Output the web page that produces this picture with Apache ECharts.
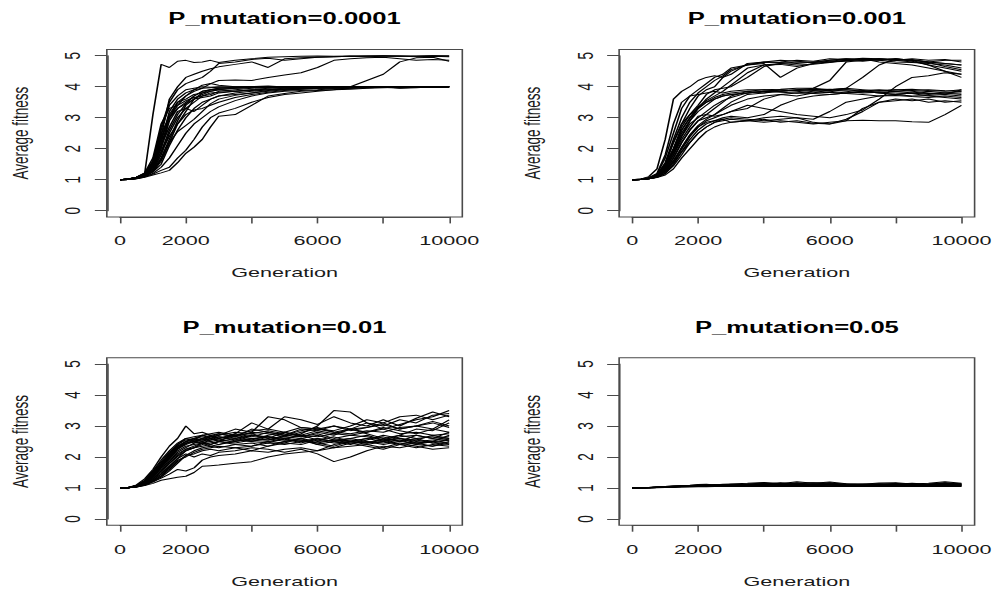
<!DOCTYPE html>
<html>
<head>
<meta charset="utf-8">
<script src="https://cdn.jsdelivr.net/npm/echarts@6/dist/echarts.min.js"></script>
<style>
html, body { margin: 0; padding: 0; background: #ffffff; overflow: hidden; width: 998px; height: 590px; }
#chart { width: 624px; height: 590px; transform: scaleX(1.599359); transform-origin: 0 0; }
</style>
</head>
<body>
<div id="chart"></div>
<script>
// ---------------- data ----------------
const generations = [0,250,500,750,1000,1250,1500,1750,2000,2250,2500,2750,3000,3500,4000,4500,5000,5500,6000,6500,7000,7500,8000,8500,9000,9500,10000];
const panelTitles = ["P_mutation=0.0001", "P_mutation=0.001", "P_mutation=0.01", "P_mutation=0.05"];
const xTickValues = [0,2000,4000,6000,8000,10000];
const xTickLabels = [0,2000,6000,10000];
const yTickValues = [0,1,2,3,4,5];
const xAxisTitle = "Generation";
const yAxisTitle = "Average fitness";

const runsP0001 = [
  [1,1.02,1.08,1.2,3.1,4.72,4.62,4.82,4.85,4.78,4.8,4.85,4.78,4.85,4.9,4.95,4.97,4.98,4.99,4.98,4.99,5,5,4.98,4.99,5,5],
  [1,1.02,1.07,1.18,1.5,2.4,3.6,4,4.3,4.4,4.5,4.58,4.64,4.72,4.8,4.62,4.9,4.93,4.95,4.97,4.98,4.97,4.98,4.99,4.97,4.98,4.97],
  [1,1.02,1.06,1.15,1.4,2.1,3,3.5,3.7,3.85,3.95,4.1,4.2,4.22,4.2,4.3,4.38,4.45,4.62,4.85,4.9,4.93,4.95,4.9,4.85,4.88,4.85],
  [1,1.01,1.05,1.13,1.35,1.9,2.6,3.1,3.45,3.7,3.85,3.9,3.95,3.97,3.98,4,3.98,4,3.97,3.98,4,4.2,4.4,4.8,4.93,4.95,4.82],
  [1,1.02,1.07,1.19,1.6,2.7,3.5,3.9,4.1,4.2,4.3,4.5,4.75,4.8,4.88,4.92,4.85,4.9,4.95,4.97,4.98,4.98,5,4.99,4.98,5,4.98],
  [1,1.02,1.08,1.2,1.6,2.6,3.4,3.7,3.9,3.95,4,3.98,4,3.98,4,4.02,3.99,4,4,3.98,4,4,3.99,4,4,4,4],
  [1,1.02,1.06,1.15,1.4,2,2.9,3.3,3.5,3.7,3.85,3.9,3.95,3.98,4,3.97,4,4,3.99,4,4,4,3.98,4,4,4,4],
  [1,1.01,1.05,1.12,1.3,1.8,2.5,3,3.3,3.5,3.7,3.75,3.85,3.9,3.95,3.97,4,3.98,4,4,4,3.99,4,4,4,3.98,4],
  [1,1.01,1.04,1.1,1.25,1.5,2.1,2.6,3,3.3,3.5,3.6,3.7,3.8,3.85,3.9,3.92,3.95,3.97,3.98,4,4,4,3.96,3.98,4,4],
  [1,1.01,1.03,1.08,1.15,1.22,1.3,1.55,1.85,2.05,2.3,2.7,3.05,3.1,3.4,3.7,3.78,3.85,3.88,3.9,3.95,3.97,3.98,3.95,3.97,4,4],
  [1,1.01,1.04,1.1,1.18,1.3,1.4,1.7,1.95,2.3,2.7,3,3.15,3.3,3.5,3.65,3.75,3.8,3.85,3.9,3.92,3.95,3.97,3.98,4,4,4],
  [1,1.02,1.07,1.18,1.5,2.3,3.1,3.5,3.6,3.75,3.8,3.85,3.9,3.85,3.9,3.95,3.97,4,4,4,4,4,4,4,4,4,4],
  [1,1.02,1.06,1.16,1.45,2.1,2.7,3.2,3.3,3.2,3.4,3.6,3.7,3.75,3.8,3.85,3.9,3.92,3.95,3.97,3.98,4,4,4,4,4,4],
  [1,1.01,1.05,1.14,1.35,1.9,2.4,2.8,3.2,3.6,3.8,3.9,3.92,3.95,3.98,4,4,4,4,4,4,4,4,4,4,4,4],
  [1,1.02,1.08,1.22,1.7,2.8,3.3,3.4,3.55,3.65,3.7,3.8,3.82,3.85,3.88,3.9,3.93,3.95,3.97,3.96,3.98,4,3.98,4,4,4,4],
  [1,1.01,1.04,1.11,1.25,1.6,2.2,2.8,3.1,3.25,3.3,3.4,3.5,3.65,3.75,3.82,3.88,3.92,3.95,3.95,3.97,3.98,4,4,4,4,4],
  [1,1.02,1.07,1.2,1.55,2.5,3,3.4,3.7,3.9,4.05,4.1,4.05,4,4,3.98,4,4,4,4,4,4,4,4,4,4,4],
  [1,1.01,1.05,1.13,1.3,1.7,2.3,2.9,3.4,3.6,3.65,3.7,3.8,3.85,3.9,3.92,3.95,3.97,3.98,4,4,4,4,4,4,4,4],
  [1,1.01,1.03,1.09,1.2,1.4,1.7,2.1,2.5,2.8,3,3.2,3.35,3.55,3.7,3.8,3.85,3.88,3.9,3.93,3.95,3.97,3.98,4,4,3.98,4],
  [1,1.02,1.06,1.17,1.45,2.2,3.2,3.6,3.8,3.9,3.95,3.97,3.98,4,4,4,4,4,4,4,4,4,4,4,4,4,4],
  [1,1.02,1.07,1.19,1.52,2.35,3,3.3,3.45,3.6,3.75,3.85,3.9,3.95,3.97,4,4,4,4,4,4,4,4,4,4,4,4],
  [1,1.01,1.04,1.12,1.28,1.65,2.2,2.55,2.75,2.95,3.2,3.45,3.6,3.72,3.8,3.88,3.92,3.95,3.97,3.98,4,4,4,4,4,4,4]
];

const runsP001 = [
  [1,1.02,1.1,1.35,2.3,3.6,3.85,4,4.2,4.3,4.35,4.3,4.4,4.75,4.8,4.78,4.75,4.8,4.85,4.9,4.85,4.88,4.9,4.85,4.8,4.85,4.85],
  [1,1.01,1.06,1.18,1.7,2.5,3.3,3.7,3.9,4.1,4.3,4.4,4.6,4.7,4.75,4.3,4.6,4.75,4.8,4.82,4.9,4.85,4.8,4.78,4.75,4.7,4.6],
  [1,1.01,1.05,1.15,1.5,2.2,2.8,3.3,3.7,3.9,4,4.3,4.5,4.72,4.8,4.85,4.82,4.78,4.85,4.9,4.88,4.85,4.9,4.82,4.7,4.6,4.5],
  [1,1.01,1.04,1.12,1.4,1.9,2.5,2.9,3.3,3.6,3.8,4,4.2,4.6,4.7,4.75,4.7,4.72,4.78,4.85,4.9,4.8,4.75,4.7,4.6,4.5,4.4],
  [1,1.01,1.05,1.14,1.45,2,2.7,3.1,3.4,3.75,3.9,3.95,4,4.3,4.65,4.75,4.8,4.78,4.82,4.88,4.85,4.9,4.85,4.9,4.85,4.88,4.8],
  [1,1.01,1.04,1.12,1.35,1.8,2.4,2.9,3.2,3.4,3.6,3.7,3.75,3.8,3.85,3.85,3.9,3.95,4.2,4.8,4.85,4.9,4.88,4.85,4.7,4.5,4.3],
  [1,1.01,1.04,1.1,1.3,1.7,2.2,2.6,2.9,3.1,3.3,3.5,3.7,3.85,3.9,3.92,3.95,3.95,3.9,3.95,4.3,4.7,4.9,4.85,4.8,4.75,4.7],
  [1,1.01,1.03,1.09,1.25,1.6,2,2.4,2.7,2.9,3,3.1,3.2,3.4,3.3,3.2,3.1,3.05,3,3.1,3.25,3.6,4,4.3,4.35,4.45,4.4],
  [1,1.01,1.05,1.16,1.55,2.3,3,3.5,3.8,4,4.2,4.35,4.55,4.7,4.78,4.8,4.85,4.82,4.9,4.88,4.92,4.9,4.85,4.88,4.8,4.75,4.7],
  [1,1.01,1.04,1.13,1.42,1.95,2.6,3,3.35,3.55,3.7,3.85,4.05,4.45,4.7,4.72,4.65,4.75,4.8,4.85,4.82,4.88,4.85,4.8,4.78,4.65,4.55],
  [1,1.02,1.07,1.2,1.8,2.8,3.5,3.7,3.75,3.8,3.85,3.8,3.85,3.9,3.9,3.85,3.88,3.9,3.92,3.9,3.88,3.9,3.85,3.88,3.9,3.87,3.85],
  [1,1.01,1.05,1.15,1.5,2.2,2.8,3.1,3.3,3.5,3.6,3.7,3.75,3.8,3.85,3.9,3.88,3.92,3.9,3.85,3.8,3.82,3.85,3.8,3.78,3.8,3.8],
  [1,1.01,1.04,1.12,1.4,1.9,2.4,2.8,3,3.2,3.4,3.55,3.65,3.8,3.85,3.82,3.8,3.85,3.88,3.9,3.85,3.8,3.75,3.7,3.72,3.75,3.7],
  [1,1.01,1.03,1.1,1.3,1.7,2.2,2.6,2.9,3,3.1,3.3,3.5,3.75,3.8,3.85,3.9,3.88,3.85,3.8,3.82,3.88,3.9,3.85,3.8,3.75,3.9],
  [1,1.01,1.04,1.11,1.35,1.8,2.3,2.7,3.05,3.1,3.05,3.1,3.2,3.3,3.6,3.75,3.8,3.78,3.75,3.8,3.85,3.82,3.8,3.78,3.7,3.65,3.6],
  [1,1.01,1.03,1.08,1.2,1.5,1.9,2.3,2.6,2.8,2.9,3,3.05,3,3.1,3.4,3.6,3.7,3.75,3.8,3.85,3.8,3.75,3.8,3.85,3.8,3.75],
  [1,1.01,1.04,1.13,1.45,2,2.6,3,3.3,3.5,3.65,3.75,3.8,3.85,3.8,3.9,3.85,3.8,3.9,3.95,3.9,3.85,3.9,3.92,3.88,3.85,3.9],
  [1,1.01,1.03,1.09,1.28,1.6,2.05,2.45,2.75,2.95,3.1,3.25,3.4,3.6,3.7,3.75,3.7,3.8,3.82,3.78,3.75,3.7,3.72,3.68,3.65,3.7,3.65],
  [1,1.01,1.03,1.08,1.2,1.45,1.8,2.2,2.5,2.7,2.85,2.9,2.95,2.9,2.85,2.9,2.85,2.8,2.85,2.9,3.3,3.5,3.55,3.6,3.5,3.55,3.5],
  [1,1.01,1.03,1.07,1.15,1.35,1.7,2,2.3,2.55,2.7,2.8,2.85,2.9,2.95,2.85,2.9,2.82,2.8,2.9,2.92,2.9,2.9,2.87,2.85,3.1,3.4],
  [1,1.01,1.03,1.09,1.25,1.55,1.9,2.2,2.5,2.7,2.85,2.95,3,2.95,2.9,2.95,3,2.95,3.2,3.5,3.6,3.7,3.75,3.8,3.75,3.8,3.85],
  [1,1.01,1.04,1.1,1.28,1.6,2,2.4,2.7,2.85,2.9,2.95,2.85,2.9,3,3.05,3,2.85,2.8,2.95,3.2,3.5,3.6,3.55,3.6,3.5,3.55]
];

const runsP01 = [
  [1,1.02,1.1,1.3,1.6,2,2.35,2.6,3,2.75,2.8,2.7,2.75,2.65,2.9,2.8,2.7,2.9,2.85,3,2.9,3.1,3,3.2,3.1,3.35,3.4],
  [1,1.02,1.08,1.25,1.55,1.9,2.2,2.45,2.6,2.55,2.7,2.6,2.5,2.75,3.1,2.9,3.3,3.2,3.05,3.3,3.1,3,3.2,3,3.25,3.45,3.3],
  [1,1.01,1.06,1.2,1.45,1.75,2.05,2.3,2.45,2.5,2.6,2.55,2.65,2.6,2.7,2.65,2.55,2.75,3,3.5,3.45,3.1,2.9,3.05,3.2,3.3,3.5],
  [1,1.01,1.05,1.15,1.35,1.6,1.9,2.15,2.3,2.45,2.5,2.6,2.55,2.5,2.6,2.55,2.7,2.65,2.8,2.7,2.9,2.75,2.6,2.7,2.9,2.85,3.1],
  [1,1.01,1.05,1.14,1.3,1.55,1.8,2.05,2.25,2.35,2.45,2.5,2.4,2.55,2.5,2.65,2.6,2.45,2.6,2.5,2.4,2.55,2.7,2.6,2.45,2.5,2.7],
  [1,1.01,1.04,1.12,1.25,1.45,1.7,1.95,2.2,2.3,2.35,2.4,2.5,2.45,2.55,2.5,2.6,2.7,2.55,2.65,2.5,2.4,2.3,2.45,2.35,2.25,2.3],
  [1,1.01,1.04,1.1,1.2,1.35,1.55,1.8,2.05,2.2,2.3,2.35,2.3,2.4,2.45,2.35,2.5,2.55,2.4,2.5,2.6,2.5,2.45,2.55,2.4,2.5,2.45],
  [1,1.01,1.03,1.08,1.15,1.25,1.3,1.35,1.38,1.5,1.7,1.72,1.74,1.8,1.85,2,2.1,2.15,2.2,2.3,2.35,2.4,2.5,2.6,2.55,2.7,2.6],
  [1,1.01,1.03,1.09,1.2,1.32,1.45,1.6,1.55,1.65,1.9,2,2.05,2.1,2.2,2.15,2.25,2.3,2.2,2.4,2.5,2.45,2.6,2.5,2.7,2.6,2.8],
  [1,1.01,1.04,1.11,1.25,1.45,1.7,1.95,2.1,2,2.1,2.05,2.15,2.2,2.3,2.25,2.15,2.25,2.1,1.85,2,2.2,2.35,2.3,2.4,2.35,2.5],
  [1,1.02,1.07,1.22,1.5,1.8,2.1,2.35,2.5,2.6,2.55,2.65,2.7,2.9,2.8,3.3,3.2,2.95,2.9,3,2.85,2.95,3.1,2.9,3,3.15,3],
  [1,1.02,1.07,1.2,1.45,1.75,2,2.3,2.5,2.55,2.5,2.6,2.65,2.55,2.7,2.6,2.5,2.6,2.7,2.55,2.5,2.45,2.55,2.4,2.3,2.4,2.35],
  [1,1.01,1.06,1.18,1.4,1.7,2,2.25,2.4,2.5,2.45,2.55,2.6,2.7,2.75,2.6,2.8,2.7,2.85,2.75,2.9,2.8,2.95,2.85,2.75,2.9,2.8],
  [1,1.01,1.05,1.16,1.35,1.65,1.95,2.2,2.35,2.4,2.45,2.35,2.4,2.5,2.6,2.65,2.55,2.5,2.45,2.55,2.6,2.7,2.55,2.6,2.5,2.55,2.6],
  [1,1.02,1.08,1.24,1.52,1.85,2.15,2.4,2.6,2.65,2.7,2.75,2.8,2.7,2.85,2.9,2.8,2.95,2.9,2.85,3,3.2,3.1,3.3,3.35,3.2,3.35],
  [1,1.01,1.05,1.13,1.3,1.55,1.85,2.1,2.25,2.3,2.4,2.45,2.5,2.4,2.35,2.5,2.45,2.4,2.55,2.45,2.5,2.6,2.65,2.5,2.45,2.5,2.55],
  [1,1.01,1.04,1.1,1.22,1.4,1.65,1.9,2,2.15,2.25,2.3,2.35,2.3,2.2,2.35,2.45,2.6,2.4,2.3,2.45,2.35,2.25,2.4,2.55,2.45,2.4],
  [1,1.02,1.07,1.21,1.48,1.78,2.1,2.4,2.55,2.6,2.65,2.6,2.7,2.8,2.75,2.85,2.75,2.7,2.65,2.75,2.7,2.8,2.9,2.75,2.8,2.7,2.75],
  [1,1.01,1.05,1.15,1.38,1.68,1.98,2.28,2.42,2.55,2.6,2.5,2.55,2.65,2.55,2.7,2.8,2.65,2.75,2.6,2.7,2.65,2.55,2.7,2.6,2.65,2.55],
  [1,1.02,1.07,1.19,1.42,1.72,2.02,2.3,2.5,2.45,2.6,2.7,2.6,2.75,2.65,2.8,2.7,2.85,2.95,2.8,2.9,2.95,3.05,2.9,3,3.1,2.95],
  [1,1.01,1.04,1.12,1.28,1.5,1.78,2.02,2.2,2.3,2.45,2.4,2.5,2.6,2.5,2.45,2.6,2.55,2.45,2.35,2.5,2.6,2.5,2.4,2.45,2.35,2.45],
  [1,1.01,1.05,1.17,1.4,1.7,1.95,2.25,2.45,2.5,2.55,2.65,2.75,2.65,2.8,2.75,2.65,2.8,2.9,2.8,2.75,2.85,2.8,2.95,3,2.9,3.2],
  [1,1.02,1.06,1.18,1.42,1.75,2.05,2.35,2.5,2.6,2.7,2.65,2.6,2.7,2.6,2.55,2.65,2.6,2.5,2.55,2.45,2.5,2.4,2.5,2.6,2.45,2.55],
  [1,1.01,1.04,1.1,1.22,1.38,1.6,1.85,2.05,2.1,2.2,2.25,2.2,2.3,2.35,2.45,2.4,2.5,2.6,2.5,2.55,2.45,2.5,2.65,2.7,2.6,2.65]
];

const runsP05 = [
  [1,1,1.01,1.02,1.03,1.04,1.04,1.05,1.06,1.07,1.06,1.07,1.08,1.1,1.15,1.12,1.17,1.1,1.12,1.08,1.07,1.1,1.12,1.08,1.1,1.15,1.1],
  [1,1.01,1.02,1.02,1.04,1.05,1.06,1.06,1.08,1.08,1.07,1.09,1.1,1.12,1.1,1.15,1.13,1.12,1.17,1.1,1.08,1.1,1.15,1.09,1.12,1.17,1.12],
  [1,1,1.01,1.03,1.03,1.04,1.05,1.07,1.07,1.06,1.08,1.08,1.09,1.08,1.12,1.1,1.08,1.1,1.09,1.07,1.09,1.08,1.07,1.06,1.08,1.1,1.08],
  [1,1.01,1.01,1.02,1.03,1.05,1.05,1.06,1.07,1.09,1.08,1.1,1.08,1.11,1.09,1.12,1.1,1.08,1.11,1.09,1.1,1.07,1.09,1.1,1.07,1.09,1.06],
  [1,1,1.01,1.02,1.04,1.04,1.06,1.06,1.09,1.08,1.09,1.07,1.1,1.09,1.13,1.14,1.11,1.09,1.14,1.1,1.12,1.09,1.11,1.07,1.11,1.13,1.09],
  [1,1.01,1.02,1.03,1.04,1.05,1.05,1.07,1.08,1.07,1.1,1.09,1.08,1.1,1.11,1.09,1.12,1.11,1.1,1.12,1.09,1.11,1.1,1.12,1.09,1.11,1.1],
  [1,1,1.01,1.02,1.02,1.03,1.04,1.05,1.06,1.06,1.07,1.08,1.07,1.09,1.08,1.07,1.09,1.08,1.06,1.08,1.07,1.08,1.06,1.07,1.06,1.08,1.07],
  [1,1.01,1.02,1.03,1.05,1.06,1.06,1.08,1.1,1.09,1.11,1.1,1.12,1.13,1.16,1.13,1.15,1.17,1.13,1.11,1.13,1.12,1.14,1.11,1.13,1.16,1.14],
  [1,1,1,1.01,1.02,1.02,1.03,1.03,1.04,1.04,1.05,1.05,1.05,1.06,1.05,1.06,1.05,1.06,1.05,1.06,1.05,1.06,1.05,1.06,1.05,1.06,1.05],
  [1,1.01,1.02,1.04,1.05,1.07,1.08,1.09,1.11,1.12,1.1,1.12,1.13,1.15,1.18,1.14,1.2,1.15,1.19,1.14,1.12,1.16,1.17,1.13,1.15,1.2,1.15],
  [1,1,1.01,1.02,1.03,1.03,1.05,1.06,1.05,1.07,1.07,1.06,1.08,1.07,1.1,1.08,1.1,1.07,1.1,1.09,1.08,1.13,1.1,1.08,1.09,1.12,1.11],
  [1,1.01,1.01,1.03,1.04,1.06,1.07,1.07,1.09,1.1,1.09,1.11,1.11,1.12,1.14,1.17,1.14,1.16,1.15,1.13,1.11,1.14,1.12,1.15,1.12,1.14,1.13]
];

// ---------------- layout (unscaled px; page is stretched horizontally) ----------------
const panelRuns = [runsP0001, runsP001, runsP01, runsP05];
const panelPos = [
  { x0: 75.03, y5: 55.7 },
  { x0: 395.34, y5: 55.7 },
  { x0: 75.03, y5: 364 },
  { x0: 395.34, y5: 364 }
];
const spanX = 205.8, spanY = 155, pad = 0.04;
const FONT = '"Liberation Sans", Arial, Helvetica, sans-serif';
const AX = '#4a4a4a';

const xMin = xTickValues[0], xMax = xTickValues[xTickValues.length - 1];
const yMin = yTickValues[0], yMax = yTickValues[yTickValues.length - 1];
const xPad = (xMax - xMin) * pad, yPad = (yMax - yMin) * pad;

const grids = [], xAxes = [], yAxes = [], series = [], titles = [];

panelPos.forEach((p, i) => {
  const box = grids.length;
  grids.push({
    left: p.x0 - spanX * pad, top: p.y5 - spanY * pad,
    width: spanX * (1 + 2 * pad), height: spanY * (1 + 2 * pad),
    show: true, borderColor: AX, borderWidth: 1, backgroundColor: 'transparent'
  });
  grids.push({ left: p.x0, top: p.y5, width: spanX, height: spanY, show: false });

  xAxes.push({ gridIndex: box, type: 'value', min: xMin - xPad, max: xMax + xPad, show: false });
  yAxes.push({ gridIndex: box, type: 'value', min: yMin - yPad, max: yMax + yPad, show: false });

  xAxes.push({
    gridIndex: box + 1, type: 'value', min: xMin, max: xMax, interval: xTickValues[1] - xTickValues[0],
    position: 'bottom', offset: spanY * pad,
    axisLine: { show: true, onZero: false, lineStyle: { color: AX, width: 1 } },
    axisTick: { show: true, length: 6.5, lineStyle: { color: AX, width: 1 } },
    axisLabel: {
      show: true, interval: 0, margin: 17, showMinLabel: true, showMaxLabel: true,
      fontFamily: FONT, fontSize: 13.5, color: '#1a1a1a',
      formatter: v => (xTickLabels.indexOf(v) >= 0 ? String(v) : '')
    },
    splitLine: { show: false },
    name: xAxisTitle, nameLocation: 'middle', nameGap: 49,
    nameTextStyle: { fontFamily: FONT, fontSize: 13.5, color: '#1a1a1a' }
  });
  yAxes.push({
    gridIndex: box + 1, type: 'value', min: yMin, max: yMax, interval: yTickValues[1] - yTickValues[0],
    position: 'left', offset: spanX * pad,
    axisLine: { show: true, onZero: false, lineStyle: { color: AX, width: 1 } },
    axisTick: { show: true, length: 7.5, lineStyle: { color: AX, width: 1 } },
    axisLabel: { show: true, rotate: 90, margin: 14, showMinLabel: true, showMaxLabel: true,
      fontFamily: FONT, fontSize: 13.5, color: '#1a1a1a' },
    splitLine: { show: false },
    name: yAxisTitle, nameLocation: 'middle', nameRotate: 90, nameGap: 47,
    nameTextStyle: { fontFamily: FONT, fontSize: 13.5, color: '#1a1a1a' }
  });

  titles.push({
    text: panelTitles[i], left: p.x0 + spanX / 2, top: p.y5 - 44.6, textAlign: 'center', padding: 0,
    textStyle: { fontFamily: FONT, fontWeight: 'bold', fontSize: 16, color: '#000' }
  });

  panelRuns[i].forEach(run => {
    series.push({
      type: 'line', xAxisIndex: box, yAxisIndex: box,
      data: generations.map((g, k) => [g, run[k]]),
      symbol: 'none', showSymbol: false, silent: true,
      lineStyle: { color: '#000', width: 1 }
    });
  });
});

const chart = echarts.init(document.getElementById('chart'), null, { renderer: 'svg' });
chart.setOption({
  animation: false,
  backgroundColor: '#ffffff',
  title: titles,
  grid: grids,
  xAxis: xAxes,
  yAxis: yAxes,
  series: series
});
</script>
</body>
</html>
